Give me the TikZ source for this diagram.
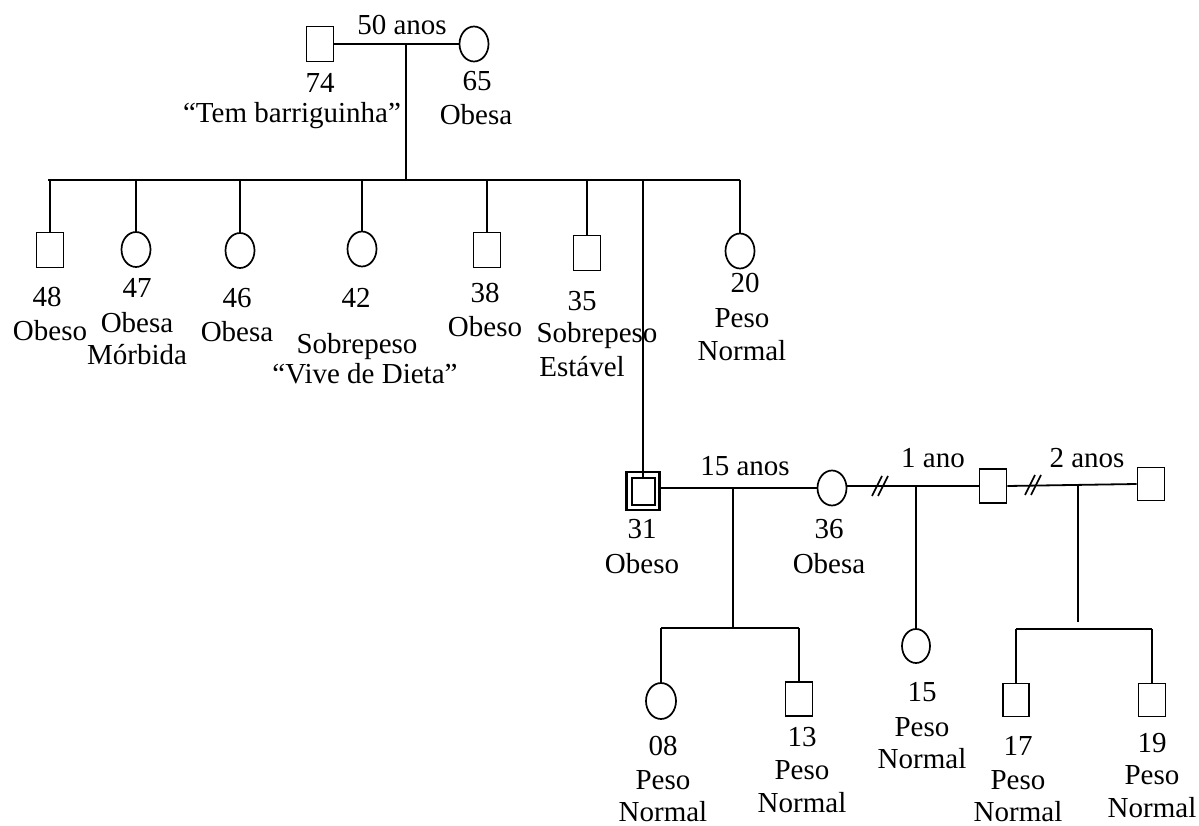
\documentclass[tikz,border=0pt]{standalone}
\usepackage{fontspec}
\setmainfont{Liberation Serif}
\usetikzlibrary{shapes.geometric}
\newcommand\lblfont{\fontsize{29}{33}\selectfont}
\tikzset{
  male/.style={draw, rectangle, minimum width=27, minimum height=35, inner sep=0, line width=1.7},
  female/.style={draw, ellipse, minimum width=29, minimum height=35, inner sep=0, line width=1.7},
  lbl/.style={anchor=base, inner sep=0, font=\lblfont},
  rel/.style={line width=1.8},
  brk/.style={line width=1.6}
}
\begin{document}
\begin{tikzpicture}[x=1pt, y=-1pt]
\useasboundingbox (0,0) rectangle (1199,826);

% ---------- generation I ----------
\node[male]   (g74) at (320,44) {};
\node[female] (g65) at (474,44) {};
\coordinate (m1) at (406,44);
\coordinate (sib1) at (406,180);
\draw[rel] (g74.east) -- (g65.west);
\draw[rel] (m1) -- (sib1);
\node[lbl] (t50) at (402,35) {50 anos};
\node[lbl] (t74a) at (320,93) {74};
\node[lbl] (t74b) at (292,123) {“Tem barriguinha”};
\node[lbl] (t65a) at (477,91) {65};
\node[lbl] (t65b) at (476,125) {Obesa};

% ---------- generation II ----------
\node[male]   (c48) at (50,250) {};
\node[female] (c47) at (136,249.5) {};
\node[female] (c46) at (240,250.5) {};
\node[female] (c42) at (362,249) {};
\node[male]   (c38) at (487,250) {};
\node[male]   (c35) at (587,253) {};
\node[female] (c20) at (740,251) {};
\node[male, minimum width=33, minimum height=38, line width=2.4] (p31) at (643,491) {};
\node[male, minimum width=23, minimum height=27, line width=2] (p31i) at (643,491.5) {};

\coordinate (sL) at (48,180);
\coordinate (sR) at (740,180);
\draw[rel] (sL) -- (sR);
\foreach \c in {c48,c47,c46,c42,c38,c35,c20}
  \draw[rel] (\c.north) -- (\c.north |- sL);
\draw[rel] (p31i.north |- sL) -- (p31i.north);

\node[lbl] (l48a) at (47,306) {48};
\node[lbl] (l48b) at (50,340) {Obeso};
\node[lbl] (l47a) at (137,298) {47};
\node[lbl] (l47b) at (137,332) {Obesa};
\node[lbl] (l47c) at (137,364) {Mórbida};
\node[lbl] (l46a) at (237,308) {46};
\node[lbl] (l46b) at (237,341) {Obesa};
\node[lbl] (l42a) at (356,308) {42};
\node[lbl] (l42b) at (357,353) {Sobrepeso};
\node[lbl] (l42c) at (365,383) {“Vive de Dieta”};
\node[lbl] (l38a) at (485,302) {38};
\node[lbl] (l38b) at (485,336) {Obeso};
\node[lbl] (l35a) at (582,310) {35};
\node[lbl] (l35b) at (597,342) {Sobrepeso};
\node[lbl] (l35c) at (582,376) {Estável};
\node[lbl] (l20a) at (745,293) {20};
\node[lbl] (l20b) at (742,327) {Peso};
\node[lbl] (l20c) at (742,360) {Normal};

% ---------- spouses of 36 line ----------
\node[female] (c36) at (832,488) {};
\node[male, minimum height=34] (h2) at (993,486) {};
\node[male, minimum height=33] (h3) at (1151,484) {};

\draw[rel] (p31.east |- c36.west) -- (c36.west);
\draw[rel] (c36.east |- h2.west) -- (h2.west);
\draw[rel] (h2.east) -- (h3.west);

% divorce marks
\coordinate (d1) at (880,486);
\coordinate (d2) at (1033,485);
\foreach \d in {d1,d2} {
  \draw[brk] (\d) ++(-8,10) -- ++(10,-20);
  \draw[brk] (\d) ++(-2,10) -- ++(10,-20);
}

\node[lbl] (t15) at (745,475) {15 anos};
\node[lbl] (t1) at (933,467) {1 ano};
\node[lbl] (t2) at (1087,467) {2 anos};
\node[lbl] (l31a) at (642,538) {31};
\node[lbl] (l31b) at (642,573) {Obeso};
\node[lbl] (l36a) at (829,538) {36};
\node[lbl] (l36b) at (829,573) {Obesa};

% ---------- generation III ----------
\coordinate (m2) at (733,488);
\coordinate (s2) at (733,628);
\node[female, minimum width=30, minimum height=36] (c08) at (661,701) {};
\node[male, minimum height=34] (c13) at (799,699) {};
\draw[rel] (m2) -- (s2);
\draw[rel] (c08.north |- s2) -- (c13.north |- s2);
\draw[rel] (c08.north |- s2) -- (c08.north);
\draw[rel] (c13.north |- s2) -- (c13.north);

\coordinate (m3) at (916,486);
\node[female, minimum width=28, minimum height=34] (c15) at (916,646) {};
\draw[rel] (m3) -- (c15.north);

\coordinate (m4) at (1078,484);
\coordinate (e4) at (1078,622);
\coordinate (s4) at (1078,629);
\node[male, minimum width=26, minimum height=33] (c17) at (1016,700) {};
\node[male, minimum height=33] (c19) at (1152,700) {};
\draw[rel] (m4) -- (e4);
\draw[rel] (c17.north |- s4) -- (c19.north |- s4);
\draw[rel] (c17.north |- s4) -- (c17.north);
\draw[rel] (c19.north |- s4) -- (c19.north);

\node[lbl] (l08a) at (663,755) {08};
\node[lbl] (l08b) at (663,789) {Peso};
\node[lbl] (l08c) at (663,821) {Normal};
\node[lbl] (l13a) at (802,746) {13};
\node[lbl] (l13b) at (802,779) {Peso};
\node[lbl] (l13c) at (802,812) {Normal};
\node[lbl] (l15a) at (922,701) {15};
\node[lbl] (l15b) at (922,736) {Peso};
\node[lbl] (l15c) at (922,768) {Normal};
\node[lbl] (l17a) at (1018,755) {17};
\node[lbl] (l17b) at (1018,789) {Peso};
\node[lbl] (l17c) at (1018,821) {Normal};
\node[lbl] (l19a) at (1152,752) {19};
\node[lbl] (l19b) at (1152,784) {Peso};
\node[lbl] (l19c) at (1152,817) {Normal};
\end{tikzpicture}
\end{document}
